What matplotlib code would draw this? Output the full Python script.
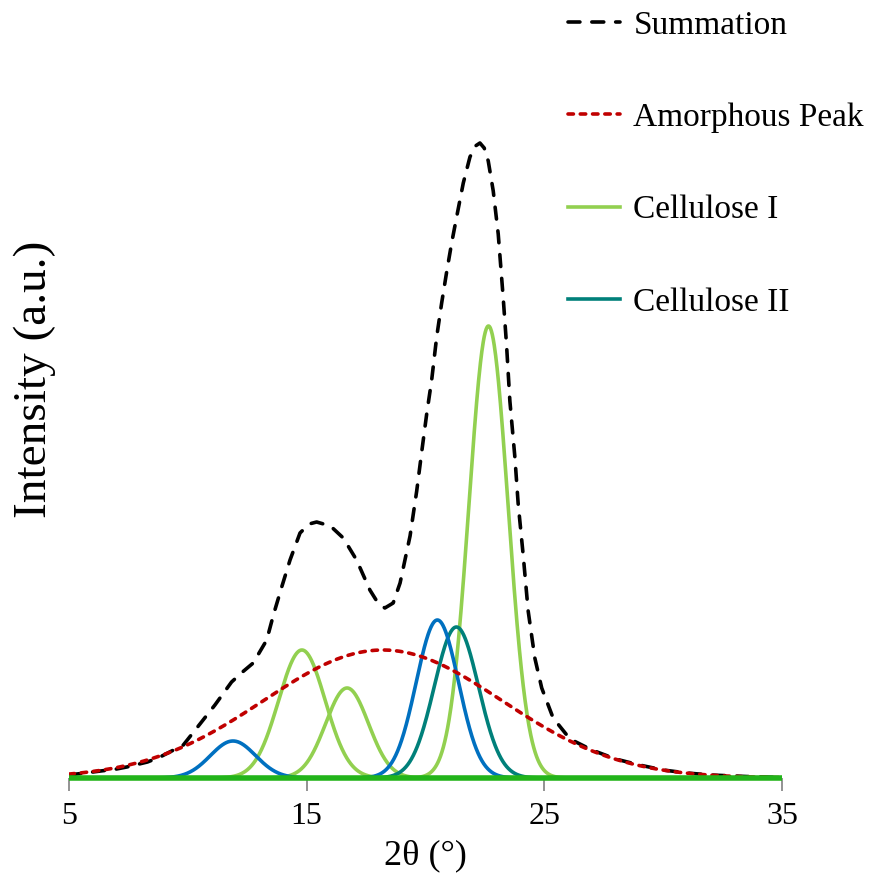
import numpy as np
import matplotlib.pyplot as plt

# --------------------------------------------------
# data
# --------------------------------------------------
# amorphous halo: centre, height, width
amorph_center = 18.2
amorph_height = 128
amorph_sigma = 5.0

# crystalline peaks: centre [2θ], height [a.u.], width
cel1_centers = [14.8, 16.7, 22.65]
cel1_heights = [128, 90, 452]
cel1_sigmas = [0.98, 0.90, 0.82]

cel2_centers = [21.3]
cel2_heights = [151]
cel2_sigmas = [0.93]

blue_centers = [11.9, 20.5]
blue_heights = [37, 158]
blue_sigmas = [0.95, 0.89]

# summation curve, read point by point
sum_2theta = [5.0, 6.0, 7.0, 7.43, 8.3, 8.83, 9.81, 10.51, 11.14, 11.84, 12.3,
              12.75, 13.32, 13.6, 13.95, 14.3, 14.72, 15.1, 15.42, 16.0, 16.54,
              17.1, 17.66, 18.0, 18.29, 18.64, 18.93, 19.35, 19.63, 19.84,
              20.05, 20.26, 20.47, 20.68, 20.89, 21.1, 21.31, 21.59, 21.87,
              22.1, 22.29, 22.47, 22.64, 22.85, 23.06, 23.27, 23.41, 23.55,
              23.76, 23.9, 24.11, 24.32, 24.6, 24.89, 25.37, 26.08, 27.0, 28.0,
              29.0, 30.0, 31.0, 32.0, 33.5, 35.0]
sum_intensity = [3, 6, 9, 11, 16, 21, 33, 54, 73, 96, 106,
                 115, 138, 163, 191, 218, 245, 254, 256, 252, 240,
                 218, 188, 175, 170, 175, 195, 242, 287, 326,
                 364, 398, 441, 475, 506, 535, 561, 595, 621,
                 632, 635, 630, 617, 587, 544, 480, 433, 377,
                 321, 274, 223, 167, 120, 90, 60, 39, 28, 19,
                 13, 8, 5, 3, 1.5, 0.5]

x_ticks = [5, 15, 25, 35]


def gauss(x, c, h, s):
    return h * np.exp(-(x - c) ** 2 / (2 * s ** 2))


x = np.linspace(5, 35, 1500)
y_am = gauss(x, amorph_center, amorph_height, amorph_sigma)
y_c1 = [gauss(x, c, h, s) for c, h, s in zip(cel1_centers, cel1_heights, cel1_sigmas)]
y_c2 = [gauss(x, c, h, s) for c, h, s in zip(cel2_centers, cel2_heights, cel2_sigmas)]
y_bl = [gauss(x, c, h, s) for c, h, s in zip(blue_centers, blue_heights, blue_sigmas)]

# --------------------------------------------------
# plot
# --------------------------------------------------
plt.rcParams["font.family"] = ["Liberation Serif", "DejaVu Serif"]

fig = plt.figure(figsize=(8.72, 8.84), dpi=100)
ax = fig.add_axes([69 / 872, 106 / 884, 713 / 872, 700 / 884])

lw = 2.6
green = "#92d050"
teal = "#00807a"
blue = "#0070c0"
red = "#c00000"

ax.plot(sum_2theta, sum_intensity, color="black", lw=lw, ls=(0, (3.3, 3.3)),
        dash_capstyle="round", label="Summation", zorder=2)
for i, yy in enumerate(y_c1):
    ax.plot(x, yy, color=green, lw=lw, label="Cellulose I" if i == 0 else None, zorder=3)
for i, yy in enumerate(y_c2):
    ax.plot(x, yy, color=teal, lw=lw, label="Cellulose II" if i == 0 else None, zorder=3)
for yy in y_bl:
    ax.plot(x, yy, color=blue, lw=lw, zorder=3)
ax.plot(x, y_am, color=red, lw=lw, ls=(0, (1.5, 1.9)),
        dash_capstyle="round", label="Amorphous Peak", zorder=4)
ax.plot([5, 35], [0, 0], color="#22b41a", lw=4.0, zorder=5,
        solid_capstyle="butt", clip_on=False)

ax.set_xlim(5, 35)
ax.set_ylim(0, 700)
ax.set_xticks(x_ticks)
ax.set_yticks([])
for sp in ["top", "right", "left", "bottom"]:
    ax.spines[sp].set_visible(False)
ax.tick_params(axis="x", color="#808080", length=9, width=1.2, labelsize=23, pad=8)
ax.set_xlabel("2θ (°)", fontsize=26, labelpad=6)
fig.text(35 / 872, 1 - 379 / 884, "Intensity (a.u.)", fontsize=34,
         rotation=90, ha="center", va="center")

handles, labels = ax.get_legend_handles_labels()
order = ["Summation", "Amorphous Peak", "Cellulose I", "Cellulose II"]
hmap = dict(zip(labels, handles))
leg = fig.legend([hmap[k] for k in order], order, loc="upper left",
                 bbox_to_anchor=(568 / 872, 1 - 10 / 884), frameon=False,
                 fontsize=24, handlelength=1.56, handletextpad=0.4,
                 labelspacing=1.86, borderpad=0, borderaxespad=0)

plt.savefig("out.png", dpi=100)
